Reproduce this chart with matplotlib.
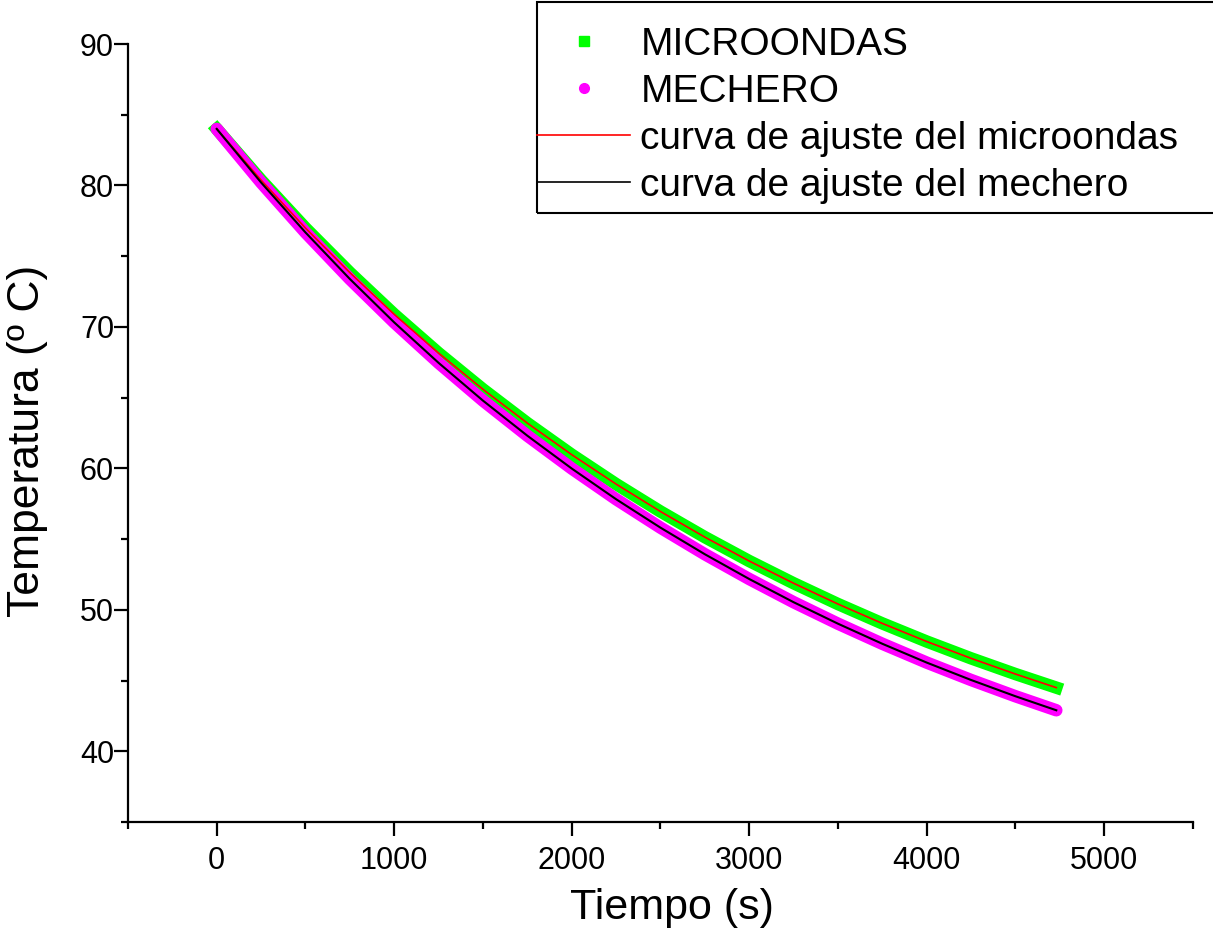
import matplotlib
matplotlib.use("Agg")
import matplotlib.pyplot as plt
from matplotlib.lines import Line2D
from matplotlib.patches import Rectangle

# valores (cada 250 s)
tiempo = [0, 250, 500, 750, 1000, 1250, 1500, 1750, 2000, 2250, 2500,
          2750, 3000, 3250, 3500, 3750, 4000, 4250, 4500, 4730]
microondas = [84.00, 80.38, 76.99, 73.84, 70.89, 68.15, 65.59, 63.20, 60.97, 58.89,
              56.95, 55.14, 53.45, 51.88, 50.41, 49.04, 47.76, 46.57, 45.46, 44.50]
mechero = [84.00, 80.21, 76.68, 73.39, 70.32, 67.46, 64.79, 62.31, 59.99, 57.82,
           55.81, 53.93, 52.18, 50.54, 49.02, 47.60, 46.27, 45.04, 43.89, 42.90]
etiquetas = ["MICROONDAS", "MECHERO", "curva de ajuste del microondas",
             "curva de ajuste del mechero"]

plt.rcParams['font.family'] = ['Liberation Sans', 'DejaVu Sans']

fig = plt.figure(figsize=(12.13, 9.43), dpi=100)
ax = fig.add_axes([0.1055, 0.1283, 0.878, 0.825])

ax.plot(tiempo, microondas, color='#00ff00', lw=9, solid_capstyle='projecting')
ax.plot(tiempo, mechero, color='#ff00ff', lw=9, solid_capstyle='round')
ax.plot(tiempo, microondas, color='#ff0000', lw=1.2)
ax.plot(tiempo, mechero, color='black', lw=1.5)

ax.set_xlim(-500, 5500)
ax.set_ylim(35, 90)
ax.set_xticks(range(0, 5001, 1000))
ax.set_xticks(range(-500, 5501, 500), minor=True)
ax.set_yticks(range(40, 91, 10))
ax.set_yticks(range(35, 91, 5), minor=True)
for s in ['top', 'right']:
    ax.spines[s].set_visible(False)
for s in ['left', 'bottom']:
    ax.spines[s].set_linewidth(1.6)
ax.tick_params(which='major', direction='out', length=10, width=1.6, labelsize=22)
ax.tick_params(axis='x', which='major', pad=7)
ax.tick_params(axis='y', which='major', pad=0)
ax.tick_params(which='minor', direction='out', length=5, width=1.6)
ax.set_xlabel("Tiempo (s)", fontsize=31)
ax.set_ylabel("Temperatura (º C)", fontsize=32)
ax.xaxis.set_label_coords(0.511, -0.085)
ax.yaxis.set_label_coords(-0.075, 0.49)

handles = [
    Line2D([], [], ls='none', marker='s', color='#00ff00', markersize=7),
    Line2D([], [], ls='none', marker='o', color='#ff00ff', markersize=7),
    Line2D([], [], color='#ff0000', lw=1.2),
    Line2D([], [], color='black', lw=1.2),
]
leg = fig.legend(handles, etiquetas, loc='upper left', bbox_to_anchor=(537 / 1213, 1 - 27 / 943),
                 frameon=False, prop={'size': 28},
                 handlelength=2.4, handletextpad=0.26, labelspacing=0.28, borderaxespad=0,
                 borderpad=0)
fig.add_artist(Rectangle((537 / 1213, 1 - 213 / 943), 0.6, 211 / 943, transform=fig.transFigure,
                         fill=False, edgecolor='black', lw=1.5))

fig.savefig("out.png", dpi=100)
